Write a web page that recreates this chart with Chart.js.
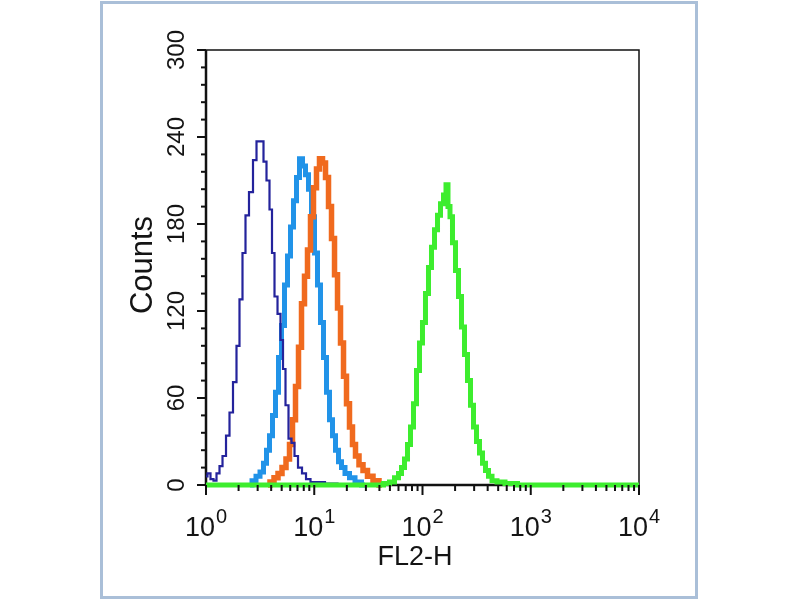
<!DOCTYPE html>
<html>
<head>
<meta charset="utf-8">
<script src="https://cdn.jsdelivr.net/npm/chart.js@4.4.1/dist/chart.umd.min.js"></script>
<style>
    html, body { margin: 0; padding: 0; background: #fff; }
    canvas { display: block; }
</style>
</head>
<body>
<canvas id="chart--hist" width="800" height="600"></canvas>
<script>
// FL2-H values (log axis) and counts
const blue_x = [1.00, 1.066, 1.136, 1.211, 1.291, 1.376, 1.467, 1.597, 1.702, 1.853, 1.975, 2.105, 2.244, 2.392, 2.604, 2.836, 3.023, 3.291, 3.508, 3.739, 3.985, 4.158, 4.434, 4.726, 5.037, 5.255, 5.602, 5.971, 6.365, 6.784, 7.387, 8.043, 8.757, 9.739, 11.30, 13.98, 19.24];
const blue_y = [6, 8, 4, 3, 8, 13, 20, 34, 50, 71, 96, 128, 160, 186, 202, 224, 237, 237, 223, 210, 190, 160, 130, 118, 100, 80, 55, 32, 29, 20, 12, 8, 4, 2, 2, 1, 0];

const lightblue_x = [2.550, 2.776, 3.023, 3.291, 3.508, 3.739, 3.985, 4.248, 4.528, 4.827, 5.145, 5.483, 5.845, 6.231, 6.641, 7.079, 7.545, 8.043, 8.570, 9.135, 9.739, 10.38, 11.06, 11.79, 12.57, 13.40, 14.28, 15.22, 16.23, 17.29, 18.43, 20.07, 22.33, 25.37, 29.44];
const lightblue_y = [0, 3, 6, 9, 15, 24, 34, 48, 64, 88, 110, 138, 158, 178, 196, 212, 225, 220, 214, 204, 185, 160, 138, 112, 88, 64, 45, 34, 24, 16, 12, 8, 5, 2, 0];

const orange_x = [3.739, 4.071, 4.434, 4.827, 5.255, 5.722, 6.099, 6.501, 6.929, 7.386, 7.873, 8.389, 8.944, 9.533, 10.16, 10.83, 11.54, 12.31, 13.12, 13.98, 14.91, 15.89, 16.93, 18.05, 19.24, 20.50, 21.85, 23.29, 24.83, 27.03, 29.44, 32.73, 37.20, 42.25];
const orange_y = [0, 2, 5, 8, 12, 18, 28, 45, 68, 95, 125, 144, 162, 185, 205, 218, 225, 222, 212, 192, 170, 145, 122, 98, 75, 56, 40, 28, 20, 14, 10, 6, 3, 0];

const green_x = [1, 40.50, 47.00, 52.27, 58.14, 61.96, 66.06, 70.41, 75.05, 79.98, 85.24, 90.88, 96.85, 103.2, 110.0, 117.3, 125.0, 133.3, 142.1, 151.4, 161.4, 168.4, 175.7, 183.3, 195.4, 208.3, 222.0, 236.7, 252.2, 268.9, 286.6, 305.5, 325.6, 347.1, 370.0, 394.4, 420.4, 457.7, 519.9, 643.1, 885.1, 10000];
const green_y = [0, 0, 1, 2, 5, 8, 12, 18, 28, 40, 56, 79, 98, 112, 132, 150, 164, 176, 186, 194, 200, 207, 192, 185, 167, 148, 130, 109, 90, 72, 55, 40, 30, 22, 15, 10, 6, 3, 2, 1, 0, 0];

const y_ticks = [0, 60, 120, 180, 240, 300];
const x_ticks = [1, 10, 100, 1000, 10000];
const x_exp = ['0', '1', '2', '3', '4'];

const FONT = '"Liberation Sans", Arial, Helvetica, sans-serif';

function points(xs, ys) {
    return xs.map((x, i) => ({ x: x, y: ys[i] }));
}

function series(xs, ys, color, width) {
    return {
        data: points(xs, ys),
        borderColor: color,
        borderWidth: width,
        pointRadius: 0,
        fill: false,
        stepped: 'middle',
        clip: false
    };
}

// frame, ticks and labels drawn with the chart's own scales
const axes_plugin = {
    id: 'facsAxes',
    beforeDraw(chart) {
        const ctx = chart.ctx;
        ctx.save();
        ctx.fillStyle = '#fff';
        ctx.fillRect(0, 0, chart.width, chart.height);
        ctx.strokeStyle = '#aabfd8';
        ctx.lineWidth = 3;
        ctx.strokeRect(101.5, 2.5, 595, 595);
        ctx.restore();
    },
    beforeDatasetsDraw(chart) {
        const ctx = chart.ctx, a = chart.chartArea;
        ctx.save();
        ctx.strokeStyle = '#111';
        ctx.lineWidth = 1.5;
        ctx.strokeRect(a.left, a.top, a.right - a.left, a.bottom - a.top);
        ctx.lineWidth = 2.5;
        ctx.beginPath();
        ctx.moveTo(a.left, a.top);
        ctx.lineTo(a.left, a.bottom);
        ctx.lineTo(a.right, a.bottom);
        ctx.stroke();
        ctx.restore();
    },
    afterDraw(chart) {
        const ctx = chart.ctx, a = chart.chartArea;
        const xs = chart.scales.x, ys = chart.scales.y;
        ctx.save();
        ctx.strokeStyle = '#111';
        ctx.fillStyle = '#141414';
        ctx.lineWidth = 2;

        // y ticks: minor every 12
        for (let v = 0; v <= 300; v += 12) {
            const py = ys.getPixelForValue(v);
            const len = v % 60 === 0 ? 9 : 5;
            ctx.beginPath();
            ctx.moveTo(a.left, py);
            ctx.lineTo(a.left - len, py);
            ctx.stroke();
        }
        // x ticks: 1..9 per decade
        for (let d = 0; d < 4; d++) {
            for (let k = 1; k <= 9; k++) {
                const px = xs.getPixelForValue(k * Math.pow(10, d));
                const len = k === 1 ? 10 : 6;
                ctx.beginPath();
                ctx.moveTo(px, a.bottom);
                ctx.lineTo(px, a.bottom + len);
                ctx.stroke();
            }
        }
        const pEnd = xs.getPixelForValue(10000);
        ctx.beginPath();
        ctx.moveTo(pEnd, a.bottom);
        ctx.lineTo(pEnd, a.bottom + 10);
        ctx.stroke();

        // y tick labels, rotated
        ctx.font = '24px ' + FONT;
        ctx.textAlign = 'center';
        ctx.textBaseline = 'alphabetic';
        y_ticks.forEach(v => {
            ctx.save();
            ctx.translate(a.left - 22, ys.getPixelForValue(v));
            ctx.rotate(-Math.PI / 2);
            ctx.fillText(String(v), 0, 0);
            ctx.restore();
        });

        // x tick labels 10^n
        ctx.textAlign = 'left';
        x_ticks.forEach((v, i) => {
            const px = xs.getPixelForValue(v);
            ctx.font = '27px ' + FONT;
            const w1 = ctx.measureText('10').width;
            ctx.font = '20px ' + FONT;
            const w2 = ctx.measureText(x_exp[i]).width;
            const left = px - (w1 + w2 + 1) / 2;
            ctx.font = '27px ' + FONT;
            ctx.fillText('10', left, a.bottom + 51);
            ctx.font = '20px ' + FONT;
            ctx.fillText(x_exp[i], left + w1 + 1, a.bottom + 38);
        });

        // axis titles
        ctx.textAlign = 'center';
        ctx.font = '27px ' + FONT;
        ctx.fillText('FL2-H', 415, a.bottom + 80);
        ctx.save();
        ctx.translate(a.left - 54, 265);
        ctx.rotate(-Math.PI / 2);
        ctx.font = '31px ' + FONT;
        ctx.fillText('Counts', 0, 0);
        ctx.restore();

        ctx.restore();
    }
};

const config_hist = {
    type: 'line',
    data: {
        datasets: [
            series(green_x, green_y, '#3ded2e', 5),
            series(blue_x, blue_y, '#24239c', 2.2),
            series(orange_x, orange_y, '#f06a1e', 5.5),
            series(lightblue_x, lightblue_y, '#2193e8', 5)
        ]
    },
    options: {
        responsive: false,
        animation: false,
        devicePixelRatio: 1,
        layout: {
            padding: { left: 206, right: 161, top: 50, bottom: 115 }
        },
        plugins: {
            legend: { display: false },
            tooltip: { enabled: false }
        },
        scales: {
            x: {
                type: 'logarithmic',
                min: 1,
                max: 10000,
                display: false
            },
            y: {
                type: 'linear',
                min: 0,
                max: 300,
                display: false
            }
        }
    },
    plugins: [axes_plugin]
};

var charthist = new Chart(
    document.getElementById('chart--hist'),
    config_hist
);
</script>
</body>
</html>
